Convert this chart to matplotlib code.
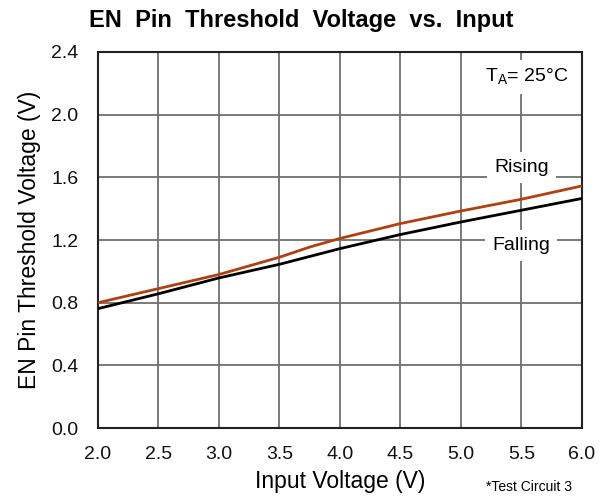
import matplotlib
matplotlib.use("Agg")
import matplotlib.pyplot as plt
import numpy as np

plt.rcParams['font.family'] = ['Liberation Sans', 'DejaVu Sans']
plt.rcParams['mathtext.fontset'] = 'custom'
plt.rcParams['mathtext.rm'] = 'Liberation Sans'

# data
vin = [2.0, 2.5, 3.0, 3.5, 3.75, 4.0, 4.5, 5.0, 5.5, 6.0]
rising = [0.80, 0.89, 0.98, 1.09, 1.155, 1.21, 1.305, 1.385, 1.46, 1.545]
falling = [0.762, 0.857, 0.958, 1.045, 1.095, 1.145, 1.235, 1.315, 1.39, 1.465]

xticks = [2.0, 2.5, 3.0, 3.5, 4.0, 4.5, 5.0, 5.5, 6.0]
yticks = [0.0, 0.4, 0.8, 1.2, 1.6, 2.0, 2.4]

fig = plt.figure(figsize=(6.08, 4.99), dpi=100)
ax = fig.add_axes([0.161, 0.142, 0.796, 0.754])

ax.plot(vin, rising, color='#b04010', lw=2.0, zorder=4)
ax.plot(vin, falling, color='black', lw=2.0, zorder=4)

ax.set_xlim(2.0, 6.0)
ax.set_ylim(0.0, 2.4)
ax.set_xticks(xticks)
ax.set_yticks(yticks)
ax.set_xticklabels([f"{t:.1f}" for t in xticks])
ax.set_yticklabels([f"{t:.1f}" for t in yticks])
ax.tick_params(axis='x', length=0, labelsize=14, pad=13, colors='#111111')
ax.tick_params(axis='y', length=0, labelsize=14, pad=14, colors='#111111')
ax.grid(True, color='#707070', lw=1.3)
ax.set_axisbelow(True)
for s in ax.spines.values():
    s.set_color('#222222')
    s.set_linewidth(1.5)

ax.set_xlabel("Input Voltage (V)", fontsize=16.5, labelpad=5)
ax.set_ylabel("EN Pin Threshold Voltage (V)", fontsize=16.5, labelpad=7)
fig.text(0.495, 0.958, "EN  Pin  Threshold  Voltage  vs.  Input", ha='center', va='center',
         fontsize=17, fontweight='bold')
fig.text(0.80, 0.025, "*Test Circuit 3", ha='left', va='center', fontsize=10)

box = dict(facecolor='white', edgecolor='none', pad=5)
ax.text(5.5, 1.665, "Rising", ha='center', va='center', fontsize=14, bbox=box, zorder=3)
ax.text(5.5, 1.168, "Falling", ha='center', va='center', fontsize=14, bbox=box, zorder=3)
ax.text(5.54, 2.24, r"T$_\mathregular{A}$= 25°C", ha='center', va='center', fontsize=14,
        bbox=box, zorder=3)

fig.savefig("out.png", dpi=100)
